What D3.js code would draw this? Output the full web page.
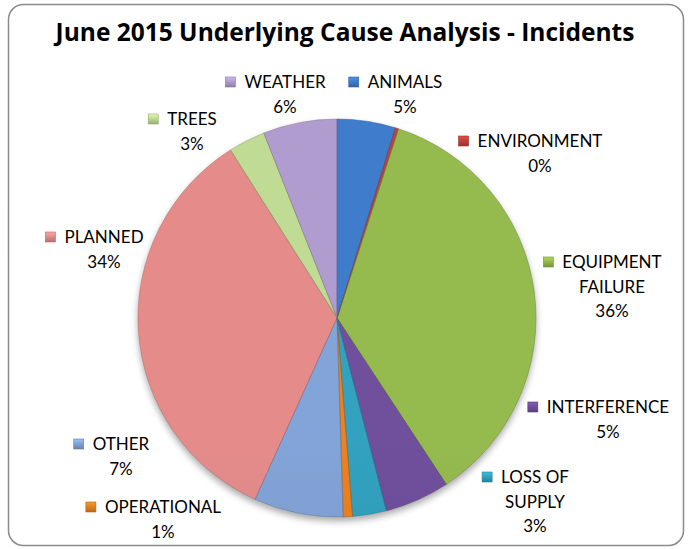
<!DOCTYPE html>
<html>
<head>
<meta charset="utf-8">
<script src="https://cdn.jsdelivr.net/npm/d3@7/dist/d3.min.js"></script>
<style>
  html, body { margin: 0; padding: 0; background: #fff; }
  svg { display: block; }
  text { font-family: Lato, "Open Sans", sans-serif; fill: #000; }
</style>
</head>
<body>
<svg id="chart" width="688" height="549"></svg>
<script>
// Incident counts by underlying cause, June 2015
const categories = ["ANIMALS", "ENVIRONMENT", "EQUIPMENT FAILURE", "INTERFERENCE",
  "LOSS OF SUPPLY", "OPERATIONAL", "OTHER", "PLANNED", "TREES", "WEATHER"];
const incidents = [19, 1, 143, 21, 11, 3, 29, 137, 12, 24];
const sliceColors = ["#3c76c0", "#b83d39", "#8db04a", "#6a4b95", "#2f9ab6",
  "#e27a1e", "#7c9bcd", "#d98584", "#b6d08b", "#a794c4"];
const titleText = "June 2015 Underlying Cause Analysis - Incidents";

// Where each data label sits: centre of its text column, baseline of first line
const labelSpots = [[405, 88], [540, 147], [612, 268], [608, 413], [535, 483],
  [163, 513], [121, 450], [104, 243], [192, 125], [285, 88]];

const cx = 337, cy = 318, R = 199;
const svg = d3.select("#chart");
const defs = svg.append("defs");

// Chart frame
svg.append("rect")
  .attr("x", 8.5).attr("y", 4.5).attr("width", 675).attr("height", 541)
  .attr("rx", 15).attr("ry", 15)
  .attr("fill", "#fff").attr("stroke", "#8a8a8a").attr("stroke-width", 1.5);

// Title
svg.append("text")
  .attr("x", 345).attr("y", 41)
  .attr("text-anchor", "middle")
  .style("font-family", "'Open Sans', Lato, sans-serif")
  .style("font-weight", "bold").style("font-size", "24.5px")
  .text(titleText);

// Soft shadow under the pie
const shadow = defs.append("filter").attr("id", "pieShadow")
  .attr("x", "-10%").attr("y", "-10%").attr("width", "120%").attr("height", "125%");
shadow.append("feGaussianBlur").attr("in", "SourceAlpha").attr("stdDeviation", 3.5);
shadow.append("feOffset").attr("dy", 4).attr("result", "off");
shadow.append("feComponentTransfer").append("feFuncA").attr("type", "linear").attr("slope", 0.35);

// Vertical gradient per slice: lighter top, darker bottom
sliceColors.forEach((c, i) => {
  const g = defs.append("linearGradient").attr("id", "sg" + i)
    .attr("gradientUnits", "userSpaceOnUse")
    .attr("x1", 0).attr("y1", cy - R).attr("x2", 0).attr("y2", cy + R);
  g.append("stop").attr("offset", "0%").attr("stop-color", d3.color(c).brighter(0.15));
  g.append("stop").attr("offset", "45%").attr("stop-color", c);
  g.append("stop").attr("offset", "100%").attr("stop-color", d3.color(c).darker(0.45));
  const m = defs.append("linearGradient").attr("id", "mg" + i)
    .attr("x1", 0).attr("y1", 0).attr("x2", 0).attr("y2", 1);
  m.append("stop").attr("offset", "0%").attr("stop-color", d3.color(c).brighter(0.6));
  m.append("stop").attr("offset", "100%").attr("stop-color", d3.color(c).darker(0.5));
});

const pie = d3.pie().sort(null).value(d => d)(incidents);
const arc = d3.arc().innerRadius(0).outerRadius(R);
const total = d3.sum(incidents);
const pct = d3.format(".0%");

const pieG = svg.append("g").attr("transform", `translate(${cx},${cy})`);
pieG.append("circle").attr("r", R).attr("fill", "#000").attr("filter", "url(#pieShadow)");

// Clip paths keep each slice's bevel highlight inside the slice
pie.forEach((d, i) => {
  defs.append("clipPath").attr("id", "cp" + i)
    .append("path").attr("d", arc(d)).attr("transform", `translate(${cx},${cy})`);
});

pieG.selectAll("path.slice").data(pie).join("path")
  .attr("class", "slice")
  .attr("d", arc)
  .attr("fill", (d, i) => `url(#sg${i})`);

// bevel highlight along slice edges
svg.append("g").selectAll("path").data(pie).join("path")
  .attr("d", arc)
  .attr("transform", `translate(${cx},${cy})`)
  .attr("fill", "none")
  .attr("stroke", "#fff").attr("stroke-opacity", 0.2).attr("stroke-width", 5)
  .attr("clip-path", (d, i) => `url(#cp${i})`);

// thin dark outline
svg.append("g").selectAll("path").data(pie).join("path")
  .attr("d", arc)
  .attr("transform", `translate(${cx},${cy})`)
  .attr("fill", "none")
  .attr("stroke", (d, i) => d3.color(sliceColors[i]).darker(0.8))
  .attr("stroke-opacity", 0.55).attr("stroke-width", 0.8);

// Data labels: marker + wrapped category name + percentage
const fontSize = 17, lineH = 24.5, maxW = 112;
const labelG = svg.append("g").style("font-size", fontSize + "px");

function wrap(name) {
  const probe = labelG.append("text").attr("opacity", 0);
  const words = name.split(" ");
  const lines = [];
  let cur = "";
  words.forEach(w => {
    const tryS = cur ? cur + " " + w : w;
    probe.text(tryS);
    if (cur && probe.node().getComputedTextLength() > maxW) { lines.push(cur); cur = w; }
    else cur = tryS;
  });
  lines.push(cur);
  probe.remove();
  return lines;
}

pie.forEach((d, i) => {
  const [lx, ly] = labelSpots[i];
  const lines = wrap(categories[i]).concat([pct(d.value / total)]);
  const t = labelG.append("text").attr("text-anchor", "middle");
  lines.forEach((s, k) => {
    t.append("tspan").attr("x", lx).attr("y", ly + k * lineH).text(s);
  });
  const firstW = t.select("tspan").node().getComputedTextLength();
  const mx = lx - firstW / 2 - 9 - 10;
  labelG.append("rect")
    .attr("x", mx).attr("y", ly - 11).attr("width", 10).attr("height", 10)
    .attr("fill", `url(#mg${i})`)
    .attr("stroke", d3.color(sliceColors[i]).darker(0.6)).attr("stroke-width", 0.6);
});
</script>
</body>
</html>
